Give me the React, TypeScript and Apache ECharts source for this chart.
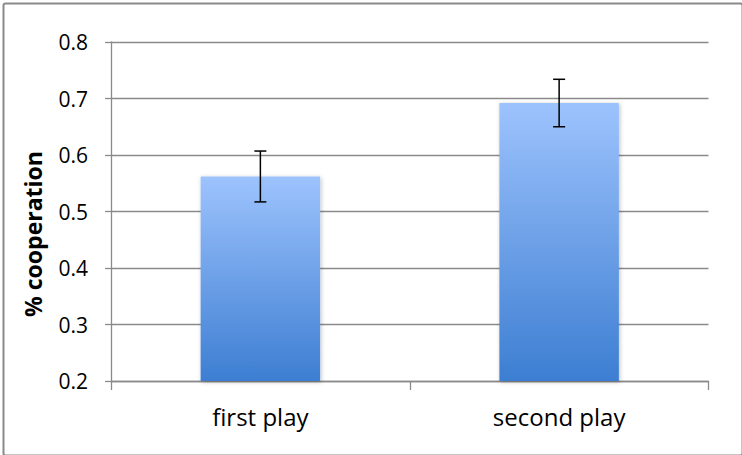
import React, { useEffect, useRef } from "react";
import * as echarts from "echarts";

const categories = ["first play", "second play"];
const values = [0.562, 0.692];
const errors = [0.045, 0.042];
const yTicks = { min: 0.2, max: 0.8, interval: 0.1 };
const yName = "% cooperation";

export default function App() {
  const ref = useRef<HTMLDivElement>(null);
  useEffect(() => {
    if (!ref.current) return;
    const chart = echarts.init(ref.current, null, { renderer: "svg" });
    const font = "'Open Sans', 'Noto Sans', sans-serif";
    chart.setOption({
      animation: false,
      graphic: [
        {
          type: "rect",
          left: 1,
          top: 1,
          shape: { width: 739, height: 452, r: 2 },
          style: { fill: "none", stroke: "#8a8a8a", lineWidth: 2 },
          silent: true,
          z: 100,
        },
        {
          type: "text",
          x: 33,
          y: 234,
          rotation: Math.PI / 2,
          style: {
            text: yName,
            fill: "#000",
            font: "bold 23px 'Open Sans', 'Noto Sans', sans-serif",
            textAlign: "center",
            textVerticalAlign: "middle",
          },
          silent: true,
        },
      ],
      grid: { left: 111, right: 33.5, top: 42, bottom: 74 },
      xAxis: {
        type: "category",
        data: categories,
        axisLine: { lineStyle: { color: "#8a8a8a", width: 1.3 } },
        axisTick: { show: true, length: 9, lineStyle: { color: "#8a8a8a", width: 1.3 } },
        axisLabel: { color: "#000", fontSize: 24, fontFamily: font, margin: 23 },
      },
      yAxis: {
        type: "value",
        min: yTicks.min,
        max: yTicks.max,
        interval: yTicks.interval,
        axisLine: { show: true, lineStyle: { color: "#8a8a8a", width: 1.3 } },
        axisTick: { show: true, length: 6, lineStyle: { color: "#8a8a8a", width: 1.3 } },
        axisLabel: {
          color: "#000",
          fontSize: 21,
          fontFamily: font,
          margin: 23,
          formatter: (v: number) => v.toFixed(1),
        },
        splitLine: { lineStyle: { color: "#8a8a8a", width: 1.3 } },
      },
      series: [
        {
          type: "bar",
          data: values,
          barWidth: "40%",
          itemStyle: {
            color: new echarts.graphic.LinearGradient(0, 0, 0, 1, [
              { offset: 0, color: "#9dc3fd" },
              { offset: 1, color: "#3d7ed2" },
            ]),
            shadowBlur: 4,
            shadowColor: "rgba(0,0,0,0.25)",
            shadowOffsetX: 1,
            shadowOffsetY: 1,
          },
          z: 2,
        },
        {
          type: "custom",
          data: values.map((v, i) => [i, v - errors[i], v + errors[i]]),
          z: 5,
          renderItem: (params: any, api: any) => {
            const i = api.value(0);
            const lo = api.coord([i, api.value(1)]);
            const hi = api.coord([i, api.value(2)]);
            const cap = 6;
            const style = { stroke: "#000", lineWidth: 1.5 };
            return {
              type: "group",
              children: [
                { type: "line", shape: { x1: hi[0], y1: hi[1], x2: lo[0], y2: lo[1] }, style },
                { type: "line", shape: { x1: hi[0] - cap, y1: hi[1], x2: hi[0] + cap, y2: hi[1] }, style },
                { type: "line", shape: { x1: lo[0] - cap, y1: lo[1], x2: lo[0] + cap, y2: lo[1] }, style },
              ],
            };
          },
        },
      ],
    });
    return () => chart.dispose();
  }, []);
  return (
    <div
      ref={ref}
      style={{ position: "fixed", left: 0, top: 0, width: 742, height: 455, background: "#fff" }}
    />
  );
}
